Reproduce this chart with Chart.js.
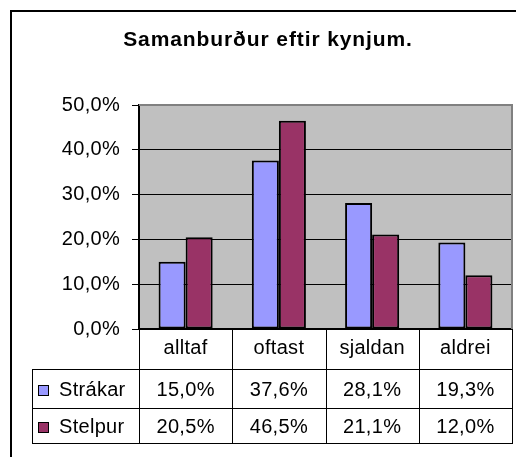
<!DOCTYPE html>
<html><head><meta charset="utf-8">
<script src="https://cdn.jsdelivr.net/npm/chart.js@4/dist/chart.umd.min.js"></script>
<style>html,body{margin:0;padding:0;background:#fff;}canvas{display:block;}</style>
</head><body>
<canvas id="c" width="516" height="457"></canvas>
<script>
const chartTitle = 'Samanburður eftir kynjum.';
const categories = ['alltaf', 'oftast', 'sjaldan', 'aldrei'];
const seriesNames = ['Strákar', 'Stelpur'];
const strakar = [15.0, 37.6, 28.1, 19.3];
const stelpur = [20.5, 46.5, 21.1, 12.0];
const yTicks = [0, 10, 20, 30, 40, 50];
const seriesColors = ['#9999FF', '#993366'];

const FONT = '"Liberation Sans", Arial, sans-serif';
const FSIZE = 20;
const SPACING = '0.3px';
const fmt = v => v.toFixed(1).replace('.', ',') + '%';
const seriesData = [strakar, stelpur];

const spacingPlugin = {
  id: 'spacing',
  beforeLayout(chart) { chart.ctx.letterSpacing = SPACING; },
  beforeDraw(chart) { chart.ctx.letterSpacing = SPACING; }
};

const framePlugin = {
  id: 'frame',
  beforeDraw(chart) {
    const { ctx, chartArea: a } = chart;
    ctx.save();
    ctx.fillStyle = '#fff';
    ctx.fillRect(0, 0, chart.width, chart.height);
    ctx.fillStyle = '#C0C0C0';
    ctx.fillRect(a.left, a.top, a.right - a.left, a.bottom - a.top);
    ctx.strokeStyle = '#000';
    ctx.lineWidth = 2;
    ctx.strokeRect(11, 11, chart.width + 40, chart.height + 40);
    // title
    ctx.letterSpacing = '0.9px';
    ctx.fillStyle = '#000';
    ctx.font = 'bold 21px ' + FONT;
    ctx.textAlign = 'center';
    ctx.textBaseline = 'alphabetic';
    ctx.fillText(chartTitle, 268, 46);
    ctx.restore();
  },
  beforeDatasetsDraw(chart) {
    const { ctx, chartArea: a } = chart;
    ctx.save();
    ctx.strokeStyle = '#808080';
    ctx.lineWidth = 2;
    ctx.beginPath();
    ctx.moveTo(a.left, a.top);
    ctx.lineTo(a.right, a.top);
    ctx.lineTo(a.right, a.bottom);
    ctx.stroke();
    ctx.restore();
  },
  afterDraw(chart) {
    const { ctx, chartArea: a } = chart;
    const xs = chart.scales.x;
    const n = categories.length;
    const cw = (a.right - a.left) / n;
    const tableLeft = 32;
    const rowTops = [a.bottom, a.bottom + 40, a.bottom + 79, a.bottom + 114];
    ctx.save();
    ctx.strokeStyle = '#000';
    ctx.lineWidth = 1;
    ctx.beginPath();
    for (let i = 0; i <= n; i++) {
      const bx = Math.round(xs.getPixelForValue(0) - cw / 2 + i * cw) + 0.5;
      ctx.moveTo(bx, a.bottom);
      ctx.lineTo(bx, rowTops[3]);
    }
    ctx.moveTo(tableLeft + 0.5, rowTops[1]);
    ctx.lineTo(tableLeft + 0.5, rowTops[3]);
    for (let r = 1; r <= 3; r++) {
      ctx.moveTo(tableLeft, rowTops[r] + 0.5);
      ctx.lineTo(Math.round(a.right) + 1, rowTops[r] + 0.5);
    }
    ctx.stroke();

    ctx.letterSpacing = SPACING;
    ctx.font = FSIZE + 'px ' + FONT;
    ctx.fillStyle = '#000';
    ctx.textBaseline = 'alphabetic';
    seriesNames.forEach((name, s) => {
      const top = rowTops[s + 1], bot = rowTops[s + 2];
      const mid = (top + bot) / 2;
      const base = mid + 7;
      ctx.fillStyle = seriesColors[s];
      ctx.fillRect(38.5, mid - 3, 10, 10);
      ctx.strokeStyle = '#000';
      ctx.lineWidth = 1;
      ctx.strokeRect(38.5, mid - 3, 10, 10);
      ctx.fillStyle = '#000';
      ctx.textAlign = 'left';
      ctx.fillText(name, 59, base);
      ctx.textAlign = 'center';
      seriesData[s].forEach((v, i) => {
        ctx.fillText(fmt(v), xs.getPixelForValue(i), base);
      });
    });
    ctx.restore();
  }
};

new Chart(document.getElementById('c'), {
  type: 'bar',
  data: {
    labels: categories,
    datasets: seriesNames.map((name, s) => ({
      label: name,
      data: seriesData[s],
      backgroundColor: seriesColors[s],
      borderColor: '#000',
      borderWidth: 2,
      borderSkipped: false,
      categoryPercentage: 0.58,
      barPercentage: 1.0
    }))
  },
  options: {
    responsive: false,
    animation: false,
    devicePixelRatio: 1,
    layout: { padding: { top: 105, right: 4, bottom: 0, left: 0 } },
    plugins: { legend: { display: false }, title: { display: false }, tooltip: { enabled: false } },
    scales: {
      x: {
        grid: { display: false, drawTicks: false },
        border: { display: true, color: '#000', width: 2 },
        ticks: { color: '#000', font: { family: FONT, size: FSIZE }, padding: 7, maxRotation: 0 },
        afterFit(scale) { scale.height = 128; }
      },
      y: {
        min: 0, max: 50,
        afterBuildTicks(scale) { scale.ticks = yTicks.map(v => ({ value: v })); },
        grid: { color: '#000', lineWidth: 1, tickLength: 7, tickColor: '#000' },
        border: { display: true, color: '#000', width: 2 },
        ticks: { color: '#000', font: { family: FONT, size: FSIZE }, padding: 12, callback: v => fmt(v) },
        afterFit(scale) { scale.width = 139; }
      }
    }
  },
  plugins: [spacingPlugin, framePlugin]
});
</script>
</body></html>
